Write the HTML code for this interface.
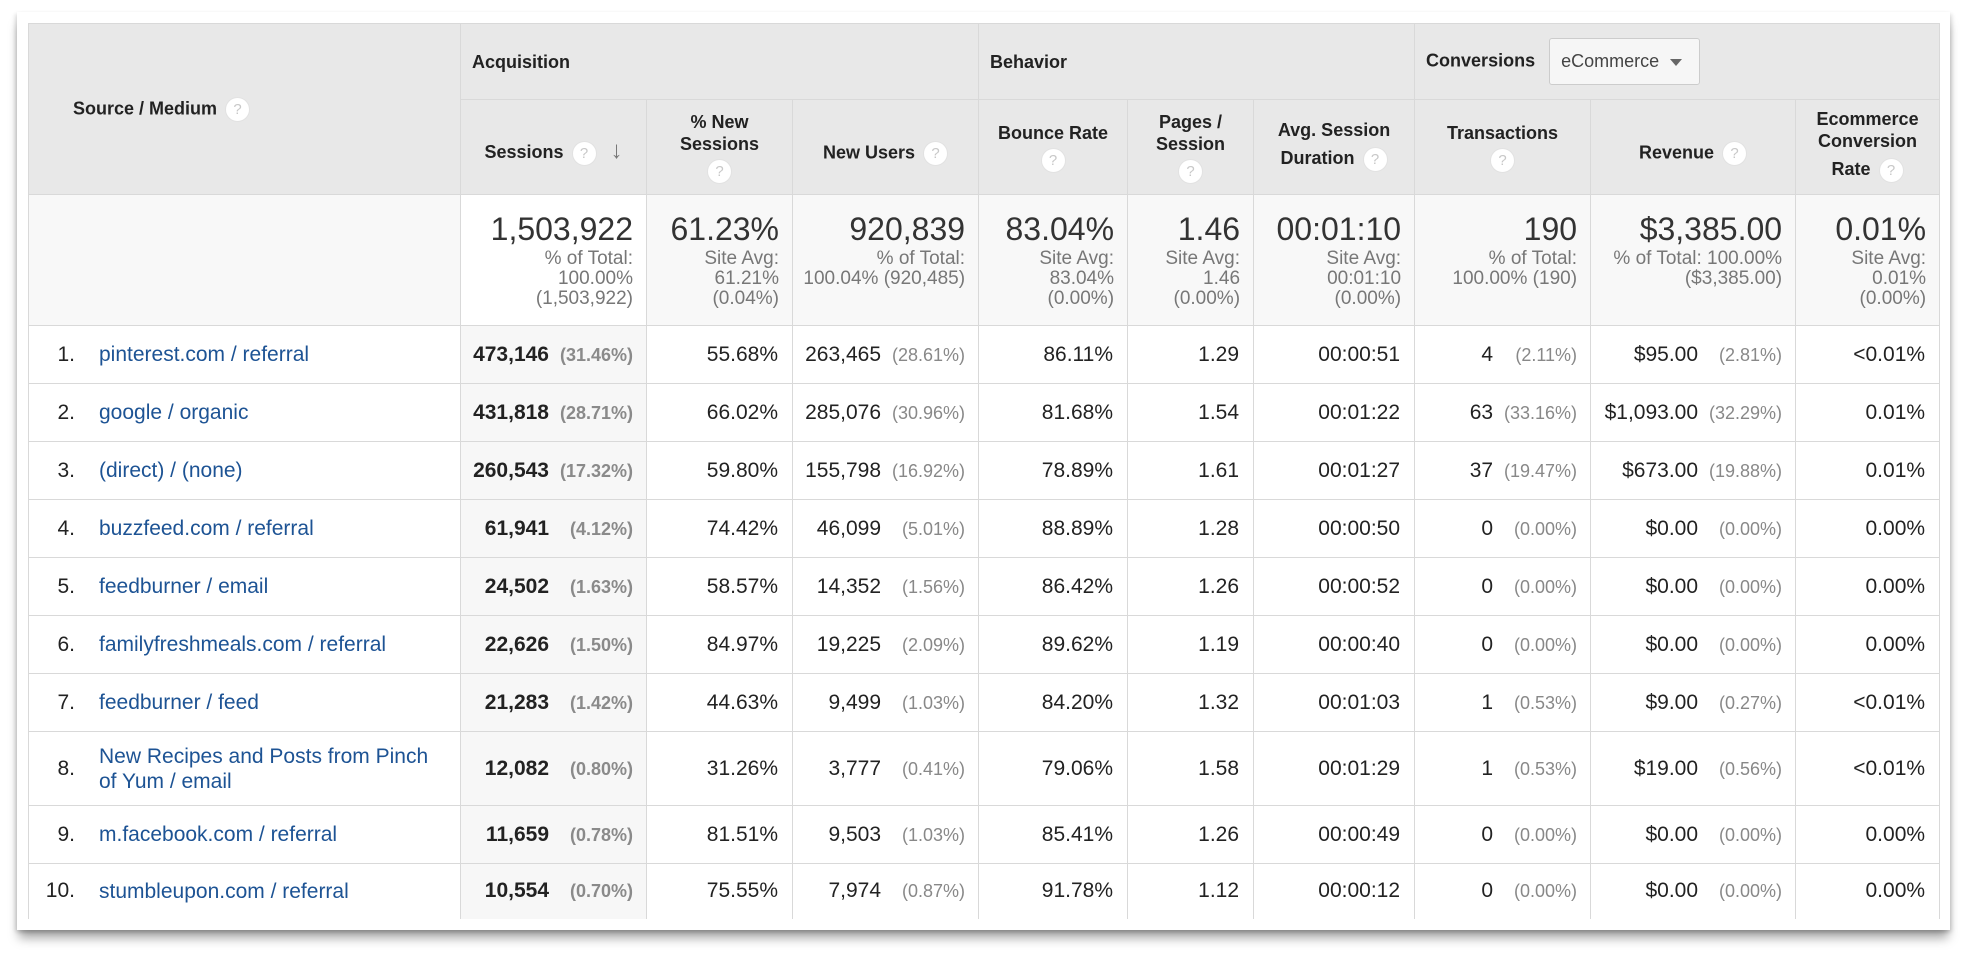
<!DOCTYPE html>
<html><head><meta charset="utf-8"><style>
*{box-sizing:border-box;margin:0;padding:0}
body{width:1964px;height:964px;background:#fff;font-family:"Liberation Sans",Arial,sans-serif;position:relative;overflow:hidden;color:#222}
.card{position:absolute;left:17px;top:12px;width:1933px;height:918px;background:#fff;box-shadow:0 10px 10px -2px rgba(0,0,0,.35),-2px 2px 4px rgba(0,0,0,.12),2px 2px 4px rgba(0,0,0,.12)}
table{position:absolute;left:28px;top:23px;border-collapse:collapse;table-layout:fixed;width:1911px}
td,th{border:1px solid #d9d9d9;overflow:hidden}
th{background:#e8e8e8;font-weight:bold;font-size:18px;color:#222;line-height:22px;text-align:center;vertical-align:middle}
th.grp{text-align:left;padding-left:11px}
.q{display:inline-block;width:25px;height:25px;border-radius:50%;background:#fff;border:1px solid #e2e2e2;color:#c8c8c8;font-size:15px;line-height:23px;text-align:center;font-weight:normal;vertical-align:middle;margin-left:8px}
.qb{margin:4px 0 0 0}
.tot td{background:#f8f8f8;vertical-align:top;text-align:right;padding:17px 13px 0 0;color:#777;font-size:19px;line-height:20px}
.tot td.w{background:#fff}
.big{font-size:32px;color:#333;line-height:34px;display:block;margin-bottom:3px;white-space:nowrap}
.r td{background:#fff;font-size:21px;text-align:right;padding-right:14px;vertical-align:middle;white-space:nowrap}
.r td.s{background:#f7f7f7;font-weight:bold}
.r td.src{text-align:left;padding:0;white-space:normal}
.idx{display:inline-block;width:46px;text-align:right;vertical-align:middle}
.lnk{display:inline-block;width:350px;margin-left:24px;color:#1d5394;vertical-align:middle;line-height:25px}
.p{display:inline-block;width:84px;text-align:right;font-size:18px;color:#888;font-weight:normal}
.s .p{font-weight:bold;color:#8a8a8a}
td.pc{padding-right:13px}
.dd{display:inline-block;margin-left:14px;width:151px;height:47px;border:1px solid #ccc;border-radius:3px;background:#f6f6f6;font-weight:normal;font-size:18px;color:#444;line-height:45px;padding-left:11px;vertical-align:middle;position:relative}
.dd:after{content:"";position:absolute;right:17px;top:20px;border-left:6px solid transparent;border-right:6px solid transparent;border-top:7px solid #666}
</style></head><body>
<div class="card"></div>
<table>
<colgroup><col style="width:432px"><col style="width:186px"><col style="width:146px"><col style="width:186px"><col style="width:149px"><col style="width:126px"><col style="width:161px"><col style="width:176px"><col style="width:205px"><col style="width:144px"></colgroup>
<tr style="height:76px">
<th rowspan="2" style="text-align:left;padding-left:44px;padding-top:0">Source / Medium<span class="q">?</span></th>
<th class="grp" colspan="3">Acquisition</th>
<th class="grp" colspan="3">Behavior</th>
<th class="grp" colspan="3">Conversions<span class="dd">eCommerce</span></th>
</tr>
<tr style="height:95px">
<th style="padding-top:12px">Sessions<span class="q">?</span><span style="color:#777;margin-left:14px;font-size:24px;font-weight:bold">&#8595;</span></th>
<th>% New<br>Sessions<br><span class="q qb">?</span></th>
<th style="padding-top:12px">New Users<span class="q">?</span></th>
<th>Bounce Rate<br><span class="q qb">?</span></th>
<th>Pages /<br>Session<br><span class="q qb">?</span></th>
<th>Avg. Session<br><span style="line-height:34px">Duration</span><span class="q">?</span></th>
<th>Transactions<br><span class="q qb">?</span></th>
<th style="padding-top:12px">Revenue<span class="q">?</span></th>
<th>Ecommerce<br>Conversion<br><span style="line-height:34px">Rate</span><span class="q">?</span></th>
</tr>
<tr class="tot" style="height:131px">
<td></td>
<td class="w"><span class="big">1,503,922</span>% of Total:<br>100.00%<br>(1,503,922)</td>
<td><span class="big">61.23%</span>Site Avg:<br>61.21%<br>(0.04%)</td>
<td><span class="big">920,839</span>% of Total:<br>100.04% (920,485)</td>
<td><span class="big">83.04%</span>Site Avg:<br>83.04%<br>(0.00%)</td>
<td><span class="big">1.46</span>Site Avg:<br>1.46<br>(0.00%)</td>
<td><span class="big">00:01:10</span>Site Avg:<br>00:01:10<br>(0.00%)</td>
<td><span class="big">190</span>% of Total:<br>100.00% (190)</td>
<td><span class="big">$3,385.00</span>% of Total: 100.00%<br>($3,385.00)</td>
<td><span class="big">0.01%</span>Site Avg:<br>0.01%<br>(0.00%)</td>
</tr>
<tr class="r" style="height:58px"><td class="src"><span class="idx">1.</span><span class="lnk">pinterest.com / referral</span></td><td class="s pc">473,146<span class="p">(31.46%)</span></td><td>55.68%</td><td class="pc">263,465<span class="p">(28.61%)</span></td><td>86.11%</td><td>1.29</td><td>00:00:51</td><td class="pc">4<span class="p">(2.11%)</span></td><td class="pc">$95.00<span class="p">(2.81%)</span></td><td>&lt;0.01%</td></tr>
<tr class="r" style="height:58px"><td class="src"><span class="idx">2.</span><span class="lnk">google / organic</span></td><td class="s pc">431,818<span class="p">(28.71%)</span></td><td>66.02%</td><td class="pc">285,076<span class="p">(30.96%)</span></td><td>81.68%</td><td>1.54</td><td>00:01:22</td><td class="pc">63<span class="p">(33.16%)</span></td><td class="pc">$1,093.00<span class="p">(32.29%)</span></td><td>0.01%</td></tr>
<tr class="r" style="height:58px"><td class="src"><span class="idx">3.</span><span class="lnk">(direct) / (none)</span></td><td class="s pc">260,543<span class="p">(17.32%)</span></td><td>59.80%</td><td class="pc">155,798<span class="p">(16.92%)</span></td><td>78.89%</td><td>1.61</td><td>00:01:27</td><td class="pc">37<span class="p">(19.47%)</span></td><td class="pc">$673.00<span class="p">(19.88%)</span></td><td>0.01%</td></tr>
<tr class="r" style="height:58px"><td class="src"><span class="idx">4.</span><span class="lnk">buzzfeed.com / referral</span></td><td class="s pc">61,941<span class="p">(4.12%)</span></td><td>74.42%</td><td class="pc">46,099<span class="p">(5.01%)</span></td><td>88.89%</td><td>1.28</td><td>00:00:50</td><td class="pc">0<span class="p">(0.00%)</span></td><td class="pc">$0.00<span class="p">(0.00%)</span></td><td>0.00%</td></tr>
<tr class="r" style="height:58px"><td class="src"><span class="idx">5.</span><span class="lnk">feedburner / email</span></td><td class="s pc">24,502<span class="p">(1.63%)</span></td><td>58.57%</td><td class="pc">14,352<span class="p">(1.56%)</span></td><td>86.42%</td><td>1.26</td><td>00:00:52</td><td class="pc">0<span class="p">(0.00%)</span></td><td class="pc">$0.00<span class="p">(0.00%)</span></td><td>0.00%</td></tr>
<tr class="r" style="height:58px"><td class="src"><span class="idx">6.</span><span class="lnk">familyfreshmeals.com / referral</span></td><td class="s pc">22,626<span class="p">(1.50%)</span></td><td>84.97%</td><td class="pc">19,225<span class="p">(2.09%)</span></td><td>89.62%</td><td>1.19</td><td>00:00:40</td><td class="pc">0<span class="p">(0.00%)</span></td><td class="pc">$0.00<span class="p">(0.00%)</span></td><td>0.00%</td></tr>
<tr class="r" style="height:58px"><td class="src"><span class="idx">7.</span><span class="lnk">feedburner / feed</span></td><td class="s pc">21,283<span class="p">(1.42%)</span></td><td>44.63%</td><td class="pc">9,499<span class="p">(1.03%)</span></td><td>84.20%</td><td>1.32</td><td>00:01:03</td><td class="pc">1<span class="p">(0.53%)</span></td><td class="pc">$9.00<span class="p">(0.27%)</span></td><td>&lt;0.01%</td></tr>
<tr class="r" style="height:74px"><td class="src"><span class="idx">8.</span><span class="lnk">New Recipes and Posts from Pinch of Yum / email</span></td><td class="s pc">12,082<span class="p">(0.80%)</span></td><td>31.26%</td><td class="pc">3,777<span class="p">(0.41%)</span></td><td>79.06%</td><td>1.58</td><td>00:01:29</td><td class="pc">1<span class="p">(0.53%)</span></td><td class="pc">$19.00<span class="p">(0.56%)</span></td><td>&lt;0.01%</td></tr>
<tr class="r" style="height:58px"><td class="src"><span class="idx">9.</span><span class="lnk">m.facebook.com / referral</span></td><td class="s pc">11,659<span class="p">(0.78%)</span></td><td>81.51%</td><td class="pc">9,503<span class="p">(1.03%)</span></td><td>85.41%</td><td>1.26</td><td>00:00:49</td><td class="pc">0<span class="p">(0.00%)</span></td><td class="pc">$0.00<span class="p">(0.00%)</span></td><td>0.00%</td></tr>
<tr class="r" style="height:55px"><td class="src" style="border-bottom:none"><span class="idx">10.</span><span class="lnk">stumbleupon.com / referral</span></td><td class="s pc" style="border-bottom:none">10,554<span class="p">(0.70%)</span></td><td style="border-bottom:none">75.55%</td><td class="pc" style="border-bottom:none">7,974<span class="p">(0.87%)</span></td><td style="border-bottom:none">91.78%</td><td style="border-bottom:none">1.12</td><td style="border-bottom:none">00:00:12</td><td class="pc" style="border-bottom:none">0<span class="p">(0.00%)</span></td><td class="pc" style="border-bottom:none">$0.00<span class="p">(0.00%)</span></td><td style="border-bottom:none">0.00%</td></tr>
</table>
</body></html>
